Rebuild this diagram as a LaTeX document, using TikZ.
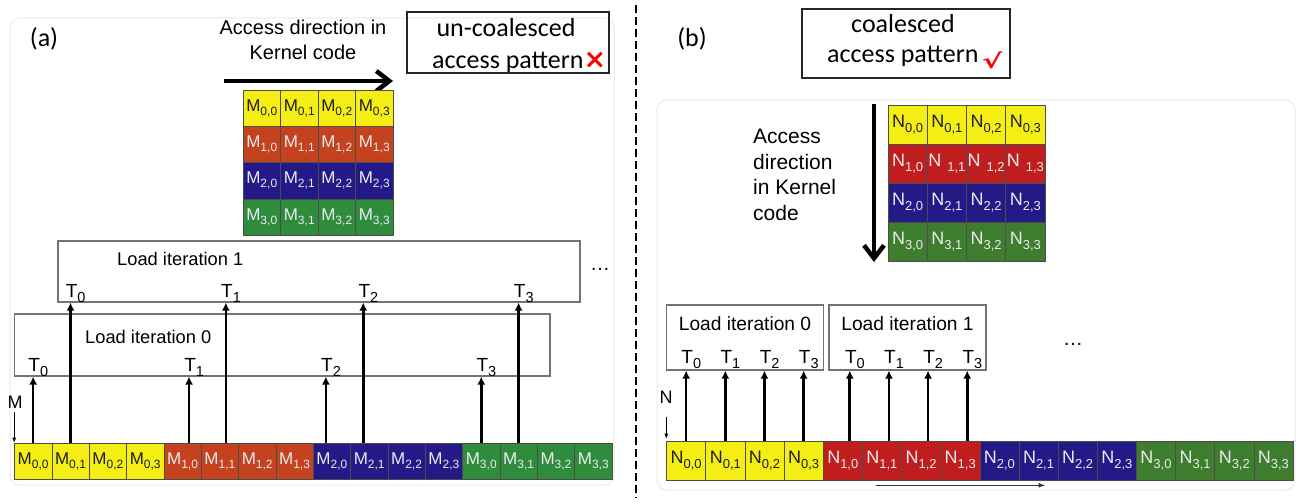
\documentclass[tikz,border=0pt]{standalone}
\usepackage{fontspec}
\setmainfont{Liberation Sans}
\newfontfamily\calfont{Carlito}
\newfontfamily\djfont{DejaVu Sans}
\usetikzlibrary{arrows.meta,calc}
\definecolor{cyel}{RGB}{245,238,20}
\definecolor{cmred}{RGB}{196,66,30}
\definecolor{cnred}{RGB}{192,30,30}
\definecolor{cnavy}{RGB}{35,25,135}
\definecolor{cmgrn}{RGB}{46,140,60}
\definecolor{cngrn}{RGB}{62,125,45}
\definecolor{ctxtl}{RGB}{235,235,240}
\definecolor{ctxtd}{RGB}{30,30,30}
\newcommand\fs[1]{\fontsize{#1}{#1}\selectfont}
\newcommand\mlab[2]{\fs{17}#1\raisebox{-4pt}{\fs{12}#2}}
\newcommand\nlab[2]{\fs{18}#1\raisebox{-4.5pt}{\fs{13}#2}}
\newcommand\tlab[1]{\fs{19}T\raisebox{-5pt}{\fs{14.5}#1}}
\begin{document}
\begin{tikzpicture}[x=1pt,y=-1pt,
 cellm/.style={draw=black!70, line width=0.6pt, inner sep=0pt, minimum width=37.4pt, minimum height=36.3pt},
 celln/.style={draw=black!70, line width=0.6pt, inner sep=0pt, minimum width=39.2pt, minimum height=39pt},
 ldbox/.style={draw=black!55, line width=1.2pt, inner sep=0pt},
 lbl/.style={inner sep=0pt, anchor=base},
 tl/.style={inner sep=0pt, anchor=base west, xshift=-6pt, yshift=5pt},
 arr/.style={line width=2.6pt, -{Latex[length=8pt,width=8pt]}},
 bigarr/.style={line width=4.5pt, -{Straight Barb[length=13pt,width=20pt]}},
 tinyarr/.style={line width=0.8pt, -{Latex[length=5pt,width=4pt]}},
 pbox/.style={draw=black!85, line width=1.3pt, inner sep=0pt},
 panel/.style={draw=black!8, line width=1pt, rounded corners=10pt}
]
\fill[white] (0,0) rectangle (1300,503);
\useasboundingbox (0,0) rectangle (1300,503);

% faint panels
\draw[panel] (10,18) rectangle (614,485);
\draw[panel] (657,100) rectangle (1295,490);

% dashed separator
\coordinate (sepT) at (636,5);
\coordinate (sepB) at (636,498);
\draw[line width=1.3pt, dash pattern=on 8pt off 4pt] (sepT) -- (sepB);

% ---------------- panel (a) ----------------
\node[lbl, font=\calfont\fs{26}] (pa) at (44,47) {(a)};
\node[anchor=north, align=center, inner sep=0pt, font=\fontsize{20}{25}\selectfont] (acca) at (303,20) {Access direction in\\Kernel code};
\node[pbox, minimum width=202pt, minimum height=61pt] (ucb) at (508,42.5) {};
\node[lbl, font=\calfont\fs{26}] (uct1) at (506,37) {un-coalesced};
\node[lbl, anchor=base west, font=\calfont\fs{26}] (uct2) at (432,68) {access pattern};
\node[inner sep=0pt, text=red, font=\djfont\bfseries\fs{27}] (ucx) at (595,60) {×};

\coordinate (ha1) at (224,81);
\coordinate (ha2) at (393,81);
\draw[bigarr] (ha1) -- (ha2);

\foreach \r/\fc/\tc in {0/cyel/ctxtd,1/cmred/ctxtl,2/cnavy/ctxtl,3/cmgrn/ctxtl}{
 \foreach \c in {0,...,3}{
  \node[cellm, fill=\fc, text=\tc] (mm-\r-\c) at ({243+37.5*(\c+0.5)},{90+36.3*(\r+0.5)}) {\mlab{M}{\r,\c}};
  \node[cellm, minimum width=37.34pt, minimum height=36pt, fill=\fc, text=\tc] (mb-\r-\c) at ({14.5+37.34*(4*\r+\c+0.5)},461) {\mlab{M}{\r,\c}};
 }}

\node[ldbox, minimum width=522pt, minimum height=61pt] (it1) at (319,271.5) {};
\node[lbl, anchor=base west, font=\fs{18.3}] (it1t) at (117,265) {Load iteration 1};
\node[ldbox, minimum width=535.5pt, minimum height=62pt] (it0) at (282.25,345) {};
\node[lbl, anchor=base west, font=\fs{18.3}] (it0t) at (85,343) {Load iteration 0};
\node[lbl, font=\fs{20}] (dotsa) at (600,270) {…};

\foreach \r/\s in {0/0,1/6.5,2/-6,3/0}{
  \draw[arr] ($(mb-\r-0.north)+(\s,0)$) -- ($(mb-\r-0.north |- it0.south)+(\s,0)$)
    node[tl] {\tlab{\r}};
}
\foreach \r/\s in {0/0,1/6,2/-6,3/0}{
  \draw[arr] ($(mb-\r-1.north)+(\s,0)$) -- ($(mb-\r-1.north |- it1.south)+(\s,0)$)
    node[tl] {\tlab{\r}};
}
\node[lbl, font=\fs{18}] (mletter) at (15,408) {M};
\draw[tinyarr] ($(mb-0-0.north west)+(0,-31)$) -- (mb-0-0.north west);

% ---------------- panel (b) ----------------
\node[lbl, font=\calfont\fs{26}] (pb) at (692,47) {(b)};
\node[pbox, minimum width=208pt, minimum height=69pt] (cb) at (906,43.5) {};
\node[lbl, font=\calfont\fs{26}] (ct1) at (903,33) {coalesced};
\node[lbl, anchor=base west, font=\calfont\fs{26}] (ct2) at (827,63) {access pattern};
\node[inner sep=0pt, text=red, font=\djfont\bfseries\fs{20}] (cck) at (992,60) {\scalebox{1.5}[1]{√}};

\node[anchor=north west, align=left, inner sep=0pt, font=\fontsize{21}{25.5}\selectfont] (accb) at (753,129) {Access\\direction\\in Kernel\\code};
\coordinate (va1) at (874,104);
\coordinate (va2) at (874,262);
\draw[bigarr] (va1) -- (va2);

\foreach \r/\fc/\tc/\gp in {0/cyel/ctxtd/0,1/cnred/ctxtl/6,2/cnavy/ctxtl/0,3/cngrn/ctxtl/0}{
 \foreach \c in {0,...,3}{
  \node[celln, minimum width=39.25pt, fill=\fc, text=\tc] (nm-\r-\c) at ({888+39.25*(\c+0.5)},{105+39*(\r+0.5)}) {\nlab{N\ifnum\c>0\hspace{\gp pt}\fi}{\r,\c}};
  \node[celln, minimum width=39.15pt, fill=\fc, text=\tc] (nb-\r-\c) at ({666.6+39.15*(4*\r+\c+0.5)},460.5) {\nlab{N}{\r,\c}};
 }}

\node[ldbox, minimum width=156.8pt, minimum height=65pt] (rit0) at (745,337.5) {};
\node[ldbox, minimum width=157pt, minimum height=65pt] (rit1) at (907.5,337.5) {};
\node[lbl, font=\fs{19.2}] (rit0t) at (745,330) {Load iteration 0};
\node[lbl, font=\fs{19.2}] (rit1t) at (907.5,330) {Load iteration 1};
\node[lbl, font=\fs{20}] (dotsb) at (1073,345) {…};

\foreach \c in {0,...,3}{
  \draw[arr] (nb-0-\c.north) -- (nb-0-\c.north |- rit0.south) node[tl, yshift=2pt] {\tlab{\c}};
  \draw[arr] ($(nb-1-\c.north)+(7,0)$) -- ($(nb-1-\c.north |- rit1.south)+(7,0)$) node[tl, yshift=2pt] {\tlab{\c}};
}
\node[lbl, font=\fs{18}] (nletter) at (666,403) {N};
\draw[tinyarr] ($(nb-0-0.north west)+(0,-24)$) -- ($(nb-0-0.north west)+(0,-2)$);
\draw[line width=1.2pt, black!80, -{Latex[length=7pt,width=5pt]}] ($(nb-1-1.south)+(-6,5)$) -- ($(nb-2-1.south)+(7,5)$);
\end{tikzpicture}
\end{document}
